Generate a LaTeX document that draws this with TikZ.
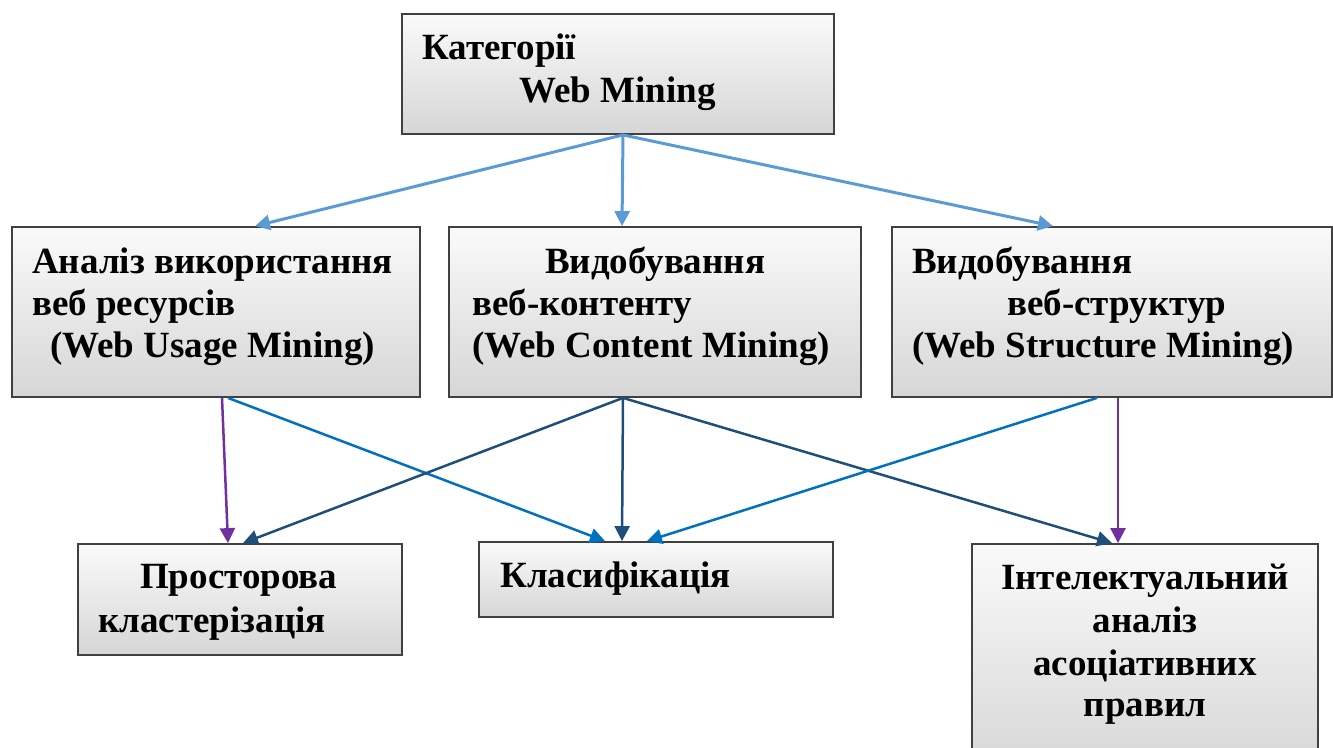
\documentclass[tikz,border=0pt]{standalone}
\usepackage{fontspec}
\setmainfont{Liberation Serif}
\usetikzlibrary{arrows.meta,calc}
\definecolor{lblue}{HTML}{5B9BD5}
\definecolor{mblue}{HTML}{0070C0}
\definecolor{dblue}{HTML}{1F4E79}
\definecolor{purp}{HTML}{7030A0}
\definecolor{boxedge}{HTML}{404040}
\definecolor{boxtop}{HTML}{FAFAFA}
\definecolor{boxbot}{HTML}{D6D6D6}
\begin{document}
\begin{tikzpicture}[x=1pt,y=-1pt,
  box/.style={draw=boxedge,line width=1.8pt,top color=boxtop,bottom color=boxbot,inner sep=0pt},
  txt/.style={anchor=base west,inner sep=0pt,font=\fontsize{37}{44}\selectfont\bfseries},
  ctxt/.style={anchor=base,inner sep=0pt,font=\fontsize{37}{44}\selectfont\bfseries},
  arr/.style={-{Triangle[length=15pt,width=15pt]},line width=2.5pt},
  toparr/.style={arr,line width=3pt,draw=lblue,-{Triangle[length=15pt,width=15pt,fill=lblue]}}
]
\useasboundingbox (0,0) rectangle (1333,747);
% boxes
\node[box,minimum width=432pt,minimum height=120pt] (top) at (618,74) {};
\node[box,minimum width=408pt,minimum height=170pt] (A) at (216,312) {};
\node[box,minimum width=412pt,minimum height=170pt] (B) at (655,312) {};
\node[box,minimum width=440pt,minimum height=170pt] (C) at (1112,312) {};
\node[box,minimum width=324pt,minimum height=111pt] (D) at (240,599.5) {};
\node[box,minimum width=354pt,minimum height=75pt] (E) at (656,579.5) {};
\node[box,minimum width=346pt,minimum height=230pt] (F) at (1145,659) {};
% texts
\node[txt] (t1) at (422,59) {Категорії};
\node[txt] (t2) at (519,102) {Web Mining};
\node[txt] (a1) at (32,273) {Аналіз використання};
\node[txt] (a2) at (32,315) {веб ресурсів};
\node[txt] (a3) at (50,357) {(Web Usage Mining)};
\node[txt] (b1) at (545,273) {Видобування};
\node[txt] (b2) at (472,315) {веб-контенту};
\node[txt] (b3) at (472,357) {(Web Content Mining)};
\node[txt] (c1) at (912,273) {Видобування};
\node[txt] (c2) at (1007,315) {веб-структур};
\node[txt] (c3) at (912,357) {(Web Structure Mining)};
\node[txt] (d1) at (140,588) {Просторова};
\node[txt] (d2) at (98,632) {кластерізація};
\node[txt] (e1) at (500,587) {Класифікація};
\node[ctxt] (f1) at (1145,589) {Інтелектуальний};
\node[ctxt] (f2) at (1145,632) {аналіз};
\node[ctxt] (f3) at (1145,675) {асоціативних};
\node[ctxt] (f4) at (1145,716) {правил};
% connectors
\draw[toparr] ($(top.south)+(5,0)$) -- ($(A.north)+(39,0)$);
\draw[toparr] ($(top.south)+(5,0)$) -- ($(B.north)+(-33,0)$);
\draw[toparr] ($(top.south)+(5,0)$) -- ($(C.north)+(-59,0)$);
\draw[arr,draw=purp,-{Triangle[length=15pt,width=15pt,fill=purp]}] ($(A.south)+(6,0)$) -- ($(D.north)+(-12,0)$);
\draw[arr,draw=mblue,-{Triangle[length=15pt,width=15pt,fill=mblue]}] ($(A.south)+(12,0)$) -- ($(E.north)+(-51,0)$);
\draw[arr,draw=dblue,-{Triangle[length=15pt,width=15pt,fill=dblue]}] ($(B.south)+(-32,0)$) -- ($(D.north)+(3,0)$);
\draw[arr,draw=dblue,-{Triangle[length=15pt,width=15pt,fill=dblue]}] ($(B.south)+(-32,0)$) -- ($(E.north)+(-34,0)$);
\draw[arr,draw=dblue,-{Triangle[length=15pt,width=15pt,fill=dblue]}] ($(B.south)+(-32,0)$) -- ($(F.north)+(-33,0)$);
\draw[arr,draw=mblue,-{Triangle[length=15pt,width=15pt,fill=mblue]}] ($(C.south)+(-15,0)$) -- ($(E.north)+(-9,0)$);
\draw[arr,draw=purp,-{Triangle[length=15pt,width=15pt,fill=purp]}] ($(C.south)+(6,0)$) -- ($(F.north)+(-27,0)$);
\end{tikzpicture}
\end{document}
